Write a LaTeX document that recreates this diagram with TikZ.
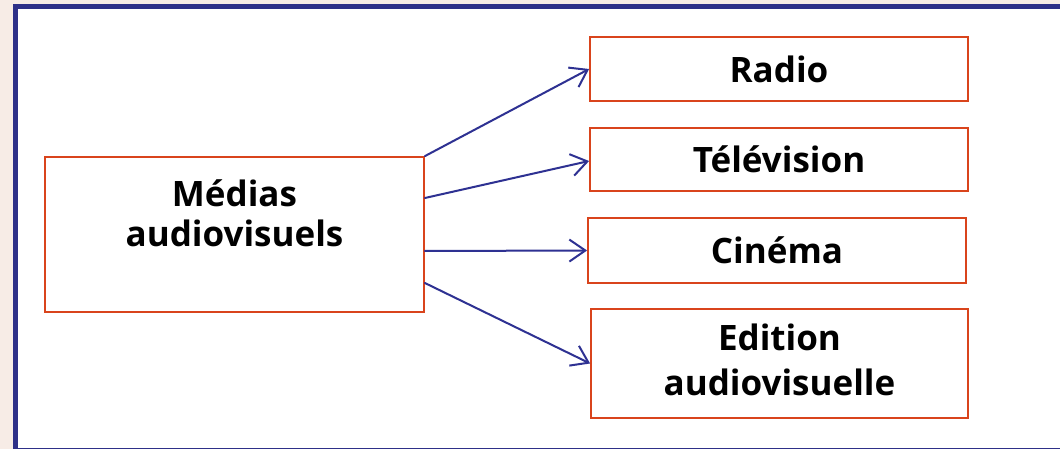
\documentclass[tikz,border=0pt]{standalone}
\usepackage{fontspec}
\setmainfont{Open Sans}
\usetikzlibrary{arrows.meta}
\definecolor{bgbeige}{HTML}{F7ECE6}
\definecolor{framblue}{HTML}{2E3088}
\definecolor{boxred}{HTML}{D9441C}
\definecolor{arrblue}{HTML}{2E3192}
\tikzset{
  box/.style={draw=boxred, line width=1.8pt, fill=white, inner sep=0pt, align=center,
    font=\bfseries\fontsize{35}{40}\selectfont},
  lbl/.style={inner sep=0pt, align=center, font=\bfseries\fontsize{35}{40}\selectfont},
  link/.style={draw=arrblue, line width=2pt, line cap=round,
    -{Straight Barb[length=16pt,width=22pt,line width=2pt]}}
}
\begin{document}
\begin{tikzpicture}[x=1pt,y=-1pt]
\useasboundingbox (0,0) rectangle (1060,449);
\fill[bgbeige] (0,0) rectangle (1060,449);
\draw[framblue, line width=5pt, fill=white] (15.5,6.5) rectangle (1075,450.5);
\node[box, minimum width=379pt, minimum height=155pt] (main) at (234.5,234.5) {};
\node[lbl] (maintext) at ([yshift=21pt]main.center) {Médias\\audiovisuels};
\node[box, minimum width=378pt, minimum height=64pt] (radio) at (779,69) {Radio};
\node[box, minimum width=378pt, minimum height=63pt] (tele) at (779,159.5) {Télévision};
\node[box, minimum width=378pt, minimum height=65pt] (cine) at (777,250.5) {Cinéma};
\node[box, minimum width=377pt, minimum height=109pt] (edit) at (779.5,363.5) {};
\node[lbl, font=\bfseries\fontsize{35}{45}\selectfont] (edittext) at ([yshift=4pt]edit.center) {Edition\\audiovisuelle};
\draw[link] (main.north east) -- (radio.west);
\draw[link] ([yshift=36.5pt]main.east) -- ([yshift=-1.5pt]tele.west);
\draw[link] ([yshift=-16.5pt]main.east) -- (cine.west);
\draw[link] ([yshift=-48.5pt]main.east) -- (edit.west);
\end{tikzpicture}
\end{document}
